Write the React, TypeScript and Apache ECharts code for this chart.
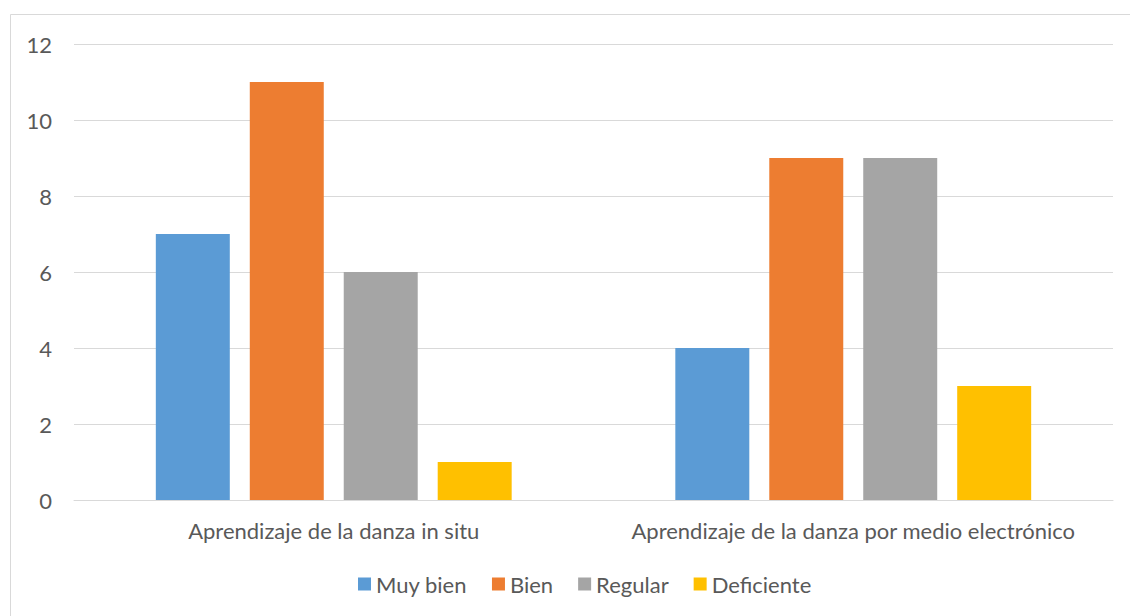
import React, { useEffect, useRef } from "react";
import * as echarts from "echarts";

const categories = ["Aprendizaje de la danza in situ", "Aprendizaje de la danza por medio electrónico"];
const seriesNames = ["Muy bien", "Bien", "Regular", "Deficiente"];
const muyBien = [7, 4];
const bien = [11, 9];
const regular = [6, 9];
const deficiente = [1, 3];
const colors = ["#5B9BD5", "#ED7D31", "#A5A5A5", "#FFC000"];

export default function App() {
  const ref = useRef<HTMLDivElement>(null);
  useEffect(() => {
    if (!ref.current) return;
    const chart = echarts.init(ref.current, undefined, { renderer: "svg" });
    const values = [muyBien, bien, regular, deficiente];
    const font = "Lato";
    const fs = 22;
    chart.setOption({
      animation: false,
      graphic: [
        {
          type: "rect",
          shape: { x: 10.5, y: 14.5, width: 1200, height: 700 },
          style: { fill: "none", stroke: "#d9d9d9", lineWidth: 1 },
          silent: true,
        },
      ],
      grid: { left: 74, right: 17, top: 44, bottom: 116, containLabel: false },
      legend: {
        bottom: 16,
        left: 353,
        itemWidth: 13,
        itemHeight: 13,
        itemGap: 25,
        icon: "rect",
        textStyle: { color: "#595959", fontSize: fs, fontFamily: font },
        data: seriesNames,
      },
      xAxis: {
        type: "category",
        data: categories,
        axisLine: { lineStyle: { color: "#d9d9d9", width: 1 } },
        axisTick: { show: false },
        axisLabel: { color: "#595959", fontSize: fs, margin: 19, fontFamily: font, interval: 0 },
      },
      yAxis: {
        type: "value",
        min: 0,
        max: 12,
        interval: 2,
        axisLine: { show: false },
        axisTick: { show: false },
        splitLine: { lineStyle: { color: "#d9d9d9", width: 1 } },
        axisLabel: { color: "#595959", fontSize: fs, margin: 22, fontFamily: font },
      },
      series: seriesNames.map((name, i) => ({
        name,
        type: "bar",
        data: values[i],
        itemStyle: { color: colors[i] },
        barGap: "27%",
        barCategoryGap: "31.5%",
      })),
    });
    return () => chart.dispose();
  }, []);
  return (
    <div style={{ position: "absolute", left: 0, top: 0, width: 1130, height: 616, background: "#fff" }}>
      <div ref={ref} style={{ width: 1130, height: 616 }} />
    </div>
  );
}
